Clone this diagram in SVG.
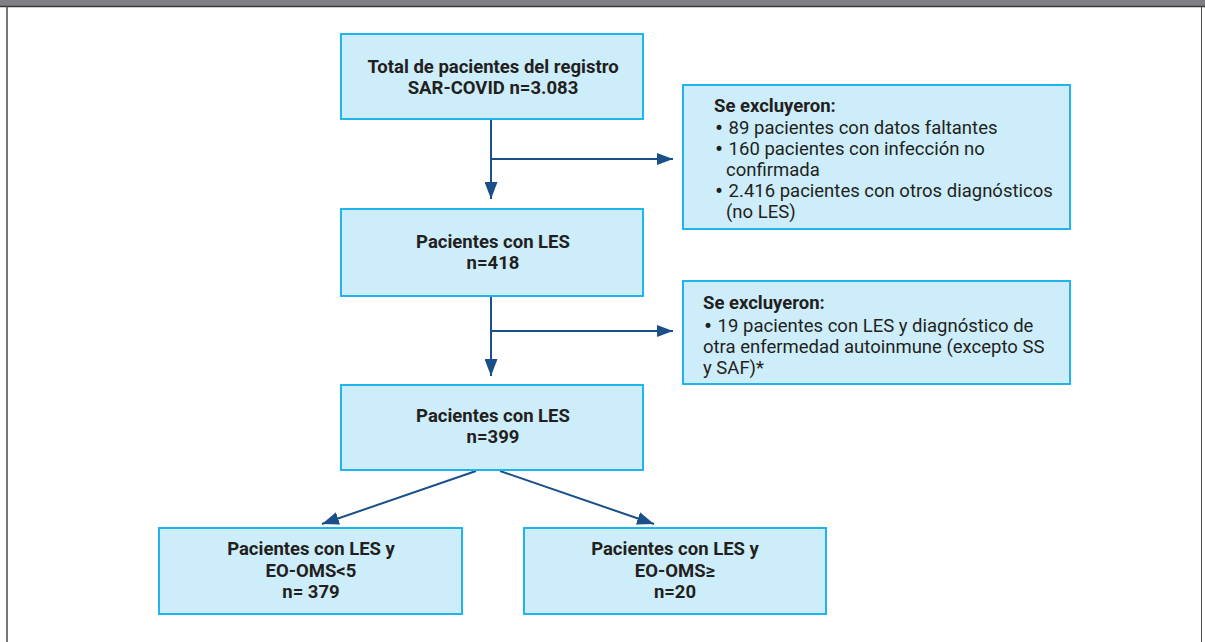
<svg xmlns="http://www.w3.org/2000/svg" width="1205" height="642" viewBox="0 0 1205 642">
<defs>
<style>
.box{fill:#ccedf9;stroke:#1fb4ec;stroke-width:2}
.t{font-family:Roboto,"Liberation Sans",sans-serif;font-size:18.5px;fill:#231f20}
.b{font-weight:bold;text-anchor:middle}
.bl{font-family:"DejaVu Sans",sans-serif;font-size:17px}
.c{stroke:#1b4f8a;stroke-width:2;fill:none}
</style>
<marker id="ah" viewBox="0 0 16 12" refX="16" refY="6" markerWidth="16" markerHeight="12" markerUnits="userSpaceOnUse" orient="auto">
<path d="M0,0 L16,6 L0,12 z" fill="#1b4f8a"/>
</marker>
<marker id="ahd" viewBox="0 0 17 13" refX="17" refY="6.5" markerWidth="17" markerHeight="13" markerUnits="userSpaceOnUse" orient="auto">
<path d="M0,0 L17,6.5 L0,13 z" fill="#1b4f8a"/>
</marker>
</defs>
<rect x="0" y="0" width="1205" height="642" fill="#ffffff"/>
<rect x="0" y="0" width="1205" height="6" fill="#808084"/>
<line x1="0" y1="6.5" x2="1205" y2="6.5" stroke="#3a3a3a" stroke-width="1.5"/>
<line x1="7" y1="6" x2="7" y2="642" stroke="#4a4a4a" stroke-width="1.5"/>
<line x1="1201.5" y1="6" x2="1201.5" y2="642" stroke="#4a4a4a" stroke-width="1"/>

<g id="connectors">
<line class="c" x1="491" y1="119" x2="491" y2="199" marker-end="url(#ahd)"/>
<line class="c" x1="491" y1="159" x2="673" y2="159" marker-end="url(#ah)"/>
<line class="c" x1="491" y1="296" x2="491" y2="376" marker-end="url(#ahd)"/>
<line class="c" x1="491" y1="331" x2="673" y2="331" marker-end="url(#ah)"/>
<line class="c" x1="476" y1="471" x2="322" y2="524" marker-end="url(#ahd)"/>
<line class="c" x1="500" y1="471" x2="654" y2="524" marker-end="url(#ahd)"/>
</g>

<g id="n1">
<rect class="box" x="341" y="34" width="302" height="85"/>
<text class="t b" x="493" y="73">Total de pacientes del registro</text>
<text class="t b" x="493" y="94">SAR-COVID n=3.083</text>
</g>

<g id="ex1">
<rect class="box" x="683" y="85" width="387" height="144"/>
<text class="t" x="714" y="112" font-weight="bold">Se excluyeron:</text>
<text class="t" x="714" y="134"><tspan class="bl">•</tspan> 89 pacientes con datos faltantes</text>
<text class="t" x="714" y="155"><tspan class="bl">•</tspan> 160 pacientes con infección no</text>
<text class="t" x="726" y="176">confirmada</text>
<text class="t" x="714" y="197"><tspan class="bl">•</tspan> 2.416 pacientes con otros diagnósticos</text>
<text class="t" x="726" y="218">(no LES)</text>
</g>

<g id="n2">
<rect class="box" x="341" y="209" width="302" height="87"/>
<text class="t b" x="493" y="248">Pacientes con LES</text>
<text class="t b" x="493" y="269">n=418</text>
</g>

<g id="ex2">
<rect class="box" x="683" y="281" width="387" height="103"/>
<text class="t" x="703" y="309" font-weight="bold">Se excluyeron:</text>
<text class="t" x="703" y="332"><tspan class="bl">•</tspan> 19 pacientes con LES y diagnóstico de</text>
<text class="t" x="703" y="353">otra enfermedad autoinmune (excepto SS</text>
<text class="t" x="703" y="374">y SAF)*</text>
</g>

<g id="n3">
<rect class="box" x="341" y="385" width="302" height="85"/>
<text class="t b" x="493" y="422">Pacientes con LES</text>
<text class="t b" x="493" y="443">n=399</text>
</g>

<g id="n4">
<rect class="box" x="159" y="528" width="303" height="86"/>
<text class="t b" x="311" y="555">Pacientes con LES y</text>
<text class="t b" x="311" y="577">EO-OMS&lt;5</text>
<text class="t b" x="311" y="598">n= 379</text>
</g>

<g id="n5">
<rect class="box" x="524" y="528" width="302" height="86"/>
<text class="t b" x="675" y="555">Pacientes con LES y</text>
<text class="t b" x="675" y="577">EO-OMS≥</text>
<text class="t b" x="675" y="598">n=20</text>
</g>
</svg>
